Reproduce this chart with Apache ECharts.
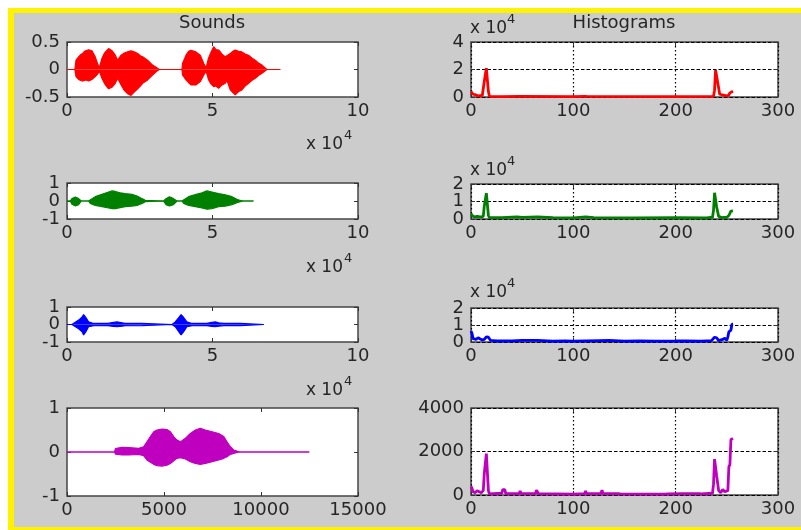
<!DOCTYPE html>
<html>
<head>
<meta charset="utf-8">
<script src="https://cdn.jsdelivr.net/npm/echarts@6/dist/echarts.min.js"></script>
<style>
  html, body { margin:0; padding:0; background:#cccccc; overflow:hidden; width:801px; height:530px; }
  #chart { position:absolute; left:0; top:0; width:801px; height:530px; }
</style>
</head>
<body>
<div id="chart"></div>
<script>
// ---------- titles / tick values ----------
const titles = ['Sounds', 'Histograms'];
const soundTicksX = [0, 5, 10];          // x 10^4
const soundTicksXLast = [0, 5000, 10000, 15000];
const histTicksX = [0, 100, 200, 300];

// ---------- sound envelopes (x in units of 10^4 samples) ----------
const redX  = [0,0.27,0.31,0.40,0.47,0.54,0.60,0.65,0.74,0.80,0.86,0.97,1.05,1.11,1.20,1.26,1.32,1.43,1.49,1.55,1.66,1.74,1.80,1.86,1.97,2.08,2.14,2.20,2.31,2.43,2.52,2.60,2.77,2.94,3.06,3.17,3.95,3.97,4.09,4.18,4.26,4.43,4.58,4.70,4.78,4.86,4.93,5.04,5.12,5.21,5.33,5.44,5.50,5.61,5.70,5.78,5.90,6.01,6.12,6.24,6.35,6.47,6.58,6.70,6.87,7.33];
const redUp = [0,0,0.17,0.23,0.27,0.29,0.33,0.35,0.36,0.33,0.34,0.23,0.11,0.03,0.20,0.27,0.32,0.38,0.36,0.34,0.26,0.17,0.14,0.26,0.30,0.32,0.30,0.34,0.32,0.29,0.25,0.23,0.17,0.08,0.04,0,0,0.11,0.26,0.33,0.35,0.32,0.26,0.11,0.03,0.20,0.29,0.415,0.36,0.355,0.28,0.23,0.20,0.29,0.33,0.355,0.33,0.32,0.28,0.26,0.21,0.17,0.12,0.08,0,0];
const redLo = [0,0,-0.13,-0.18,-0.20,-0.21,-0.18,-0.19,-0.21,-0.19,-0.18,-0.13,-0.085,-0.03,-0.16,-0.22,-0.28,-0.35,-0.33,-0.32,-0.25,-0.16,-0.13,-0.28,-0.38,-0.44,-0.42,-0.47,-0.41,-0.35,-0.30,-0.25,-0.19,-0.10,-0.04,0,0,-0.10,-0.19,-0.24,-0.28,-0.28,-0.22,-0.10,-0.03,-0.18,-0.25,-0.31,-0.30,-0.34,-0.28,-0.25,-0.20,-0.37,-0.42,-0.46,-0.40,-0.37,-0.30,-0.25,-0.20,-0.16,-0.11,-0.07,0,0];

const greenX  = [0,0.11,0.17,0.29,0.40,0.49,0.74,0.80,0.97,1.20,1.43,1.55,1.66,1.83,2.00,2.23,2.41,2.58,2.69,2.75,3.32,3.40,3.52,3.66,3.78,3.95,4.01,4.18,4.41,4.64,4.81,4.98,5.21,5.44,5.67,5.84,5.96,6.05,6.41];
const greenUp = [0,0,0.13,0.22,0.13,0,0,0.09,0.24,0.37,0.50,0.56,0.53,0.46,0.41,0.37,0.28,0.13,0.04,0,0,0.13,0.24,0.13,0,0,0.09,0.24,0.35,0.46,0.56,0.50,0.41,0.34,0.24,0.09,0.03,0,0];
const greenLo = [0,0,-0.18,-0.28,-0.20,0,0,-0.13,-0.24,-0.31,-0.39,-0.42,-0.42,-0.37,-0.31,-0.28,-0.24,-0.13,-0.04,0,0,-0.20,-0.28,-0.20,0,0,-0.13,-0.24,-0.31,-0.39,-0.46,-0.42,-0.31,-0.28,-0.20,-0.09,-0.04,0,0];

const blueX  = [0,0.17,0.23,0.40,0.52,0.57,0.65,0.74,0.92,1.40,1.60,1.72,1.89,2.00,2.58,2.60,3.61,3.66,3.72,3.84,3.92,4.01,4.12,4.30,4.80,4.98,5.10,5.21,5.40,5.96,5.98,6.76];
const blueUp = [0,0,0.10,0.25,0.43,0.57,0.40,0.15,0.06,0.06,0.12,0.15,0.10,0.06,0.06,0,0,0.08,0.15,0.40,0.57,0.40,0.15,0.06,0.06,0.12,0.15,0.10,0.06,0.06,0,0];
const blueLo = [0,0,-0.09,-0.24,-0.41,-0.60,-0.41,-0.13,-0.07,-0.06,-0.11,-0.13,-0.10,-0.07,-0.06,0,0,-0.07,-0.13,-0.41,-0.60,-0.41,-0.13,-0.07,-0.06,-0.11,-0.13,-0.10,-0.06,-0.06,0,0];

// (x in samples)
const magX  = [0,2450,2500,2830,3180,3700,3950,4120,4300,4470,4640,4900,5150,5330,5500,5670,5840,6100,6360,6620,6870,7130,7480,7820,8080,8250,8420,8590,8760,8900,12490];
const magUp = [0,0,0.08,0.106,0.10,0.083,0.12,0.23,0.35,0.46,0.50,0.52,0.51,0.46,0.35,0.27,0.23,0.31,0.42,0.50,0.54,0.50,0.46,0.42,0.35,0.23,0.12,0.045,0.02,0,0];
const magLo = [0,0,-0.05,-0.068,-0.068,-0.053,-0.083,-0.18,-0.235,-0.28,-0.31,-0.32,-0.30,-0.26,-0.20,-0.144,-0.13,-0.16,-0.22,-0.26,-0.28,-0.26,-0.22,-0.18,-0.144,-0.106,-0.053,-0.03,-0.01,0,0];

// ---------- histograms (bin, count) ----------
const histRedBins   = [0,1,2,3,5,7,9,11,12,13,14,15,16,17,18,30,47,48,49,100,111,112,113,200,237,238,239,240,241,242,243,244,250,252,253,254,256];
const histRedCounts = [4000,3800,2000,1200,1500,800,1000,900,1500,11500,12000,21000,21500,4000,500,300,400,1000,400,300,500,1000,400,300,500,5000,19500,19000,11000,10000,2000,800,800,1500,3000,4200,4200];

const histGreenBins   = [0,1,2,4,6,8,10,12,13,14,15,16,17,18,30,45,50,65,80,100,112,120,160,200,230,236,237,238,239,240,241,242,245,250,252,254,256];
const histGreenCounts = [3000,2000,1500,1200,1500,1300,1200,1500,7500,7800,14800,15000,2000,800,800,1200,900,1200,800,700,1200,800,700,800,700,1000,5000,15000,14500,7000,6000,1500,800,1000,2000,4500,4700];

const histBlueBins   = [0,1,2,3,5,7,9,11,13,15,17,19,25,40,50,65,80,92,100,125,135,150,165,180,200,210,225,235,238,240,242,246,248,250,251,252,254,255,256];
const histBlueCounts = [6500,5000,2000,1200,1500,2500,1800,1200,1500,3000,2800,1000,600,700,900,900,500,600,500,800,900,500,700,500,600,700,500,800,2800,2500,800,1500,2200,1000,3000,6000,7000,10500,10500];

const histMagBins   = [0,1,2,4,6,8,10,12,13,14,15,16,17,18,30,31,33,34,47,48,49,63,64,65,66,100,111,112,113,127,128,129,144,145,146,190,191,192,207,208,209,223,224,225,236,237,238,239,240,241,242,244,246,248,251,252,253,254,255,256];
const histMagCounts = [400,300,150,100,200,150,100,200,1000,1050,1900,1950,200,50,80,250,250,60,60,180,60,60,220,200,60,40,60,180,60,60,220,60,60,150,50,40,120,50,60,150,60,60,150,50,80,500,1650,1650,900,850,200,100,250,150,200,1300,1400,2550,2600,2600];

// ---------- build chart ----------
const FONT = 'DejaVu Sans';
const TXT = '#262626';
const pairs = (xs, ys) => xs.map((x, i) => [x, ys[i]]);
const span = t => [t[0], t[t.length - 1], t[1] - t[0]];

const panels = [
  {g:[67,42,291,55],  x:span(soundTicksX),     y:[-0.5,0.5,0.5], hist:false, color:'#ff0000', up:pairs(redX,redUp), lo:pairs(redX,redLo)},
  {g:[471,42,307,55], x:span(histTicksX),      y:[0,40000,20000], hist:true, color:'#ff0000', data:pairs(histRedBins,histRedCounts), fmt:v=>String(v/1e4)},
  {g:[67,183,291,36], x:span(soundTicksX),     y:[-1,1,1], hist:false, color:'#008000', up:pairs(greenX,greenUp), lo:pairs(greenX,greenLo)},
  {g:[471,184,307,35],x:span(histTicksX),      y:[0,20000,10000], hist:true, color:'#008000', data:pairs(histGreenBins,histGreenCounts), fmt:v=>String(v/1e4)},
  {g:[67,307,291,35], x:span(soundTicksX),     y:[-1,1,1], hist:false, color:'#0000ff', up:pairs(blueX,blueUp), lo:pairs(blueX,blueLo)},
  {g:[471,308,307,34],x:span(histTicksX),      y:[0,20000,10000], hist:true, color:'#0000ff', data:pairs(histBlueBins,histBlueCounts), fmt:v=>String(v/1e4)},
  {g:[67,408,291,88], x:span(soundTicksXLast), y:[-1,1,1], hist:false, color:'#bf00bf', up:pairs(magX,magUp), lo:pairs(magX,magLo)},
  {g:[471,408,307,87],x:span(histTicksX),      y:[0,4000,2000], hist:true, color:'#bf00bf', data:pairs(histMagBins,histMagCounts)}
];

const grid = [], xAxis = [], yAxis = [], series = [];
const labelStyle = {fontFamily:FONT, fontSize:18, color:TXT, showMinLabel:true, showMaxLabel:true, hideOverlap:false};
const tick = {show:true, inside:true, length:4, lineStyle:{color:'#333', width:1}};
const noLine = {show:false, onZero:false};

panels.forEach((p, i) => {
  const fmt = p.fmt || (v => String(v));
  const isEnd = v => Math.abs(v - p.y[0]) < 1e-9 || Math.abs(v - p.y[1]) < 1e-9;
  grid.push({left:p.g[0], top:p.g[1], width:p.g[2], height:p.g[3], show:true,
             backgroundColor:'#ffffff', borderColor:'#454545', borderWidth:1.5, containLabel:false});
  xAxis.push({type:'value', gridIndex:i, min:p.x[0], max:p.x[1], interval:p.x[2], position:'bottom',
    axisLine:noLine, axisTick:tick,
    axisLabel:Object.assign({margin:5, formatter:v => String(v)}, labelStyle),
    splitLine: p.hist ? {show:true, lineStyle:{color:'#000', width:1.2, type:[1.5,2.5]}} : {show:false}});
  xAxis.push({type:'value', gridIndex:i, min:p.x[0], max:p.x[1], interval:p.x[2], position:'top',
    axisLine:noLine, axisTick:tick, axisLabel:{show:false}, splitLine:{show:false}});
  yAxis.push({type:'value', gridIndex:i, min:p.y[0], max:p.y[1], interval:p.y[2], position:'left',
    axisLine:noLine, axisTick:tick,
    axisLabel:Object.assign({margin:7, formatter:v => isEnd(v) ? fmt(v) : ''}, labelStyle),
    splitLine: p.hist ? {show:true, lineStyle:{color:'#000', width:1, type:[3.5,2]}} : {show:false}});
  yAxis.push({type:'value', gridIndex:i, min:p.y[0], max:p.y[1], interval:p.y[2], position:'right',
    axisLine:noLine, axisTick:tick, axisLabel:{show:false}, splitLine:{show:false}});
  yAxis.push({type:'value', gridIndex:i, min:p.y[0], max:p.y[1], interval:p.y[2], position:'left',
    axisLine:noLine, axisTick:{show:false},
    axisLabel:Object.assign({margin:7, formatter:v => isEnd(v) ? '' : fmt(v)}, labelStyle),
    splitLine:{show:false}});
  const ax = {xAxisIndex:2*i, yAxisIndex:3*i};
  if (p.hist) {
    series.push(Object.assign({type:'line', data:p.data, symbol:'none', clip:false, silent:true,
      lineStyle:{color:p.color, width:2.8}}, ax));
  } else {
    [p.up, p.lo].forEach(d => series.push(Object.assign({type:'line', data:d, symbol:'none', silent:true,
      lineStyle:{color:p.color, width:1.2}, areaStyle:{color:p.color, opacity:1}}, ax)));
  }
});

// page frame (white margin + yellow border strips)
const graphic = [
  {type:'rect', silent:true, shape:{x:0, y:0, width:801, height:8}, style:{fill:'#ffffff'}},
  {type:'rect', silent:true, shape:{x:0, y:0, width:8, height:530}, style:{fill:'#ffffff'}},
  {type:'rect', silent:true, shape:{x:8, y:8, width:793, height:5}, style:{fill:'#fff200'}},
  {type:'rect', silent:true, shape:{x:8, y:8, width:6, height:522}, style:{fill:'#fff200'}},
  {type:'rect', silent:true, shape:{x:8, y:527, width:793, height:3}, style:{fill:'#fff200'}}
];
// exponent labels "x 10^4"
function addExp(x, y, anchorRight) {
  const base = {font:'17px "DejaVu Sans"', fill:TXT, verticalAlign:'middle', textVerticalAlign:'middle'};
  if (anchorRight) {
    graphic.push({type:'text', x:x, y:y, silent:true, style:Object.assign({text:'x 10', align:'right', textAlign:'right'}, base)});
    graphic.push({type:'text', x:x+1, y:y-9, silent:true, style:Object.assign({text:'4', align:'left', textAlign:'left'}, base, {font:'13px "DejaVu Sans"'})});
  } else {
    graphic.push({type:'text', x:x, y:y, silent:true, style:Object.assign({text:'x 10', align:'left', textAlign:'left'}, base)});
    graphic.push({type:'text', x:x+37, y:y-9, silent:true, style:Object.assign({text:'4', align:'left', textAlign:'left'}, base, {font:'13px "DejaVu Sans"'})});
  }
}
addExp(343, 145, true);
addExp(343, 268, true);
addExp(343, 391, true);
addExp(470, 29, false);
addExp(470, 171, false);
addExp(470, 293, false);

const chart = echarts.init(document.getElementById('chart'), null, {renderer:'canvas'});
chart.setOption({
  animation:false,
  backgroundColor:'#cccccc',
  title:[
    {text:titles[0], left:212, top:14, textAlign:'center', padding:0, textStyle:{fontFamily:FONT, fontSize:18, fontWeight:'normal', color:TXT}},
    {text:titles[1], left:624, top:14, textAlign:'center', padding:0, textStyle:{fontFamily:FONT, fontSize:18, fontWeight:'normal', color:TXT}}
  ],
  grid, xAxis, yAxis, series, graphic
});
</script>
</body>
</html>
